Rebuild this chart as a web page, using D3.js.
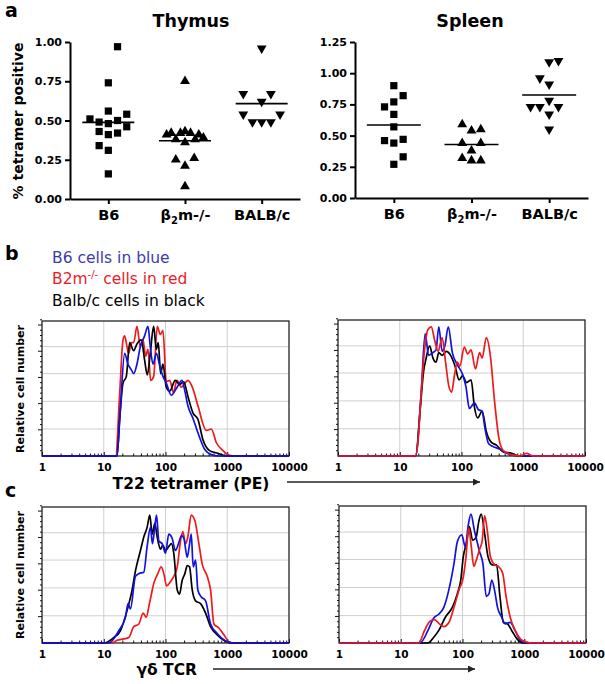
<!DOCTYPE html>
<html><head><meta charset="utf-8">
<script src="https://cdn.jsdelivr.net/npm/d3@7"></script>
<style>body{margin:0;background:#fff} svg{display:block}</style>
</head><body><svg id="c" width="605" height="684"></svg>
<script>
// ---------- DATA ----------
const groups = ["B6","β2m-/-","BALB/c"];
const thymusTicks = [0,0.25,0.5,0.75,1.0];
const spleenTicks = [0,0.25,0.5,0.75,1.0,1.25];

const thymusB6   = [0.97,0.74,0.56,0.54,0.51,0.49,0.48,0.50,0.46,0.43,0.41,0.42,0.34,0.31,0.16];
const thymusB6Slot = [1,0,0,2,-2,-1,0,1,2,-1,0,1,-1,0,0];
const thymusB2m  = [0.75,0.41,0.42,0.42,0.43,0.42,0.41,0.38,0.36,0.38,0.39,0.25,0.26,0.21,0.08];
const thymusB2mSlot = [0,-2,-1.5,-0.5,0,0.6,1.5,-1,0,1.1,2,-1,1,0,0];
const thymusBalb = [0.96,0.67,0.67,0.62,0.54,0.54,0.49,0.49,0.49];
const thymusBalbSlot = [0,-2,1,0,-2,2,-1,0,1];

const spleenB6   = [0.90,0.82,0.77,0.73,0.67,0.57,0.46,0.47,0.44,0.33,0.27];
const spleenB6Slot = [0,1,0,-1,0,0,-1,1,0,1,0];
const spleenB2m  = [0.59,0.54,0.55,0.44,0.44,0.38,0.32,0.30,0.30];
const spleenB2mSlot = [-1,0,1,-1,1,0,-1,0,1];
const spleenBalb = [1.09,1.10,0.96,0.91,0.78,0.73,0.73,0.73,0.67,0.55];
const spleenBalbSlot = [0,1,-1,0,0,-2,-1,1,0,0];

const histTicks = [1,10,100,1000,10000];

// [fluorescence, relative cell number %]
const bThymusRed = [[15.6,0],[18.1,46],[20.5,86],[21.8,89],[23.8,81],[25.3,76],[27.9,84],[30.5,84],[34.5,96],[39.1,81],[43.2,86],[47.7,74],[52,79],[57.5,56],[64.3,59],[73.6,96],[82.4,90],[91,93],[103,55],[117,56],[135,47],[153,56],[180,51],[231,56],[272,51],[336,37],[458,19],[552,20],[664,10],[851,4],[1092,0.5],[1400,0]];
const bThymusBlack = [[16.4,0],[18.1,27],[20.5,54],[23.2,59],[26.3,84],[30.5,78],[34.5,83],[40.6,86],[45.9,71],[50.7,60],[56.7,76],[64.3,96],[71,79],[76.4,84],[83.4,61],[91,68],[103,51],[117,48],[144,56],[169,53],[197,55],[231,44],[278,32],[336,27],[404,12],[518,4],[707,2],[964,0]];
const bThymusBlue = [[16.4,0],[18.5,34],[21.8,76],[24.7,68],[27.9,64],[30.5,61],[34.5,68],[39.1,81],[45.9,89],[52,96],[56.7,81],[62.7,68],[71,76],[82.4,65],[91,59],[103,54],[124,45],[150,50],[185,56],[204,49],[231,37],[278,28],[336,17],[430,5],[552,1],[707,0]];

const bSpleenRed = [[17.7,0],[19.6,9],[22.2,46],[25.2,78],[28.6,93],[32.4,95],[36.8,85],[41.8,77],[48.6,87],[55.2,69],[62.6,51],[69.3,47],[76.7,59],[85.9,69],[94,66],[111,80],[126,75],[143,78],[168,64],[196,76],[216,72],[252,87],[293,74],[345,39],[407,12],[474,4],[650,1],[893,0],[1120,2],[1480,0]];
const bSpleenBlack = [[18.1,0],[21.4,34],[24.3,62],[26.5,71],[30.5,81],[34.5,72],[38.7,69],[42.9,76],[48.6,74],[56.6,77],[66.7,74],[78.7,66],[91.5,56],[104,59],[121,54],[143,56],[162,36],[183,28],[216,33],[252,18],[305,10],[368,8],[474,3],[650,2],[838,0]];
const bSpleenBlue = [[18.1,0],[22.2,46],[25.8,90],[29.3,74],[34.5,76],[38.7,78],[42.9,95],[48.6,77],[53.8,81],[61.1,95],[71.1,76],[85.9,67],[104,60],[118,51],[134,35],[162,39],[188,34],[214,33],[243,19],[275,9],[324,7],[418,5],[538,2],[787,0]];

const cThymusBlack = [[10,0],[14.5,4],[18.6,9],[23.9,24],[28.8,39],[32.6,53],[39.3,68],[44.5,78],[50.4,85],[55.7,94],[60.8,80],[67.1,88],[73.3,78],[83,69],[90.5,72],[100,68],[113,71],[125,73],[136,66],[155,39],[169,36],[186,46],[206,51],[225,57],[245,56],[271,39],[307,31],[370,29],[446,22],[537,12],[688,6],[883,2],[1132,0]];
const cThymusBlue = [[12.1,0],[17.5,9],[22.5,19],[24.8,29],[27,25],[32.6,49],[37,51],[44.5,52],[50.4,71],[57.1,85],[61.5,73],[66.3,83],[71.5,94],[78,75],[88.3,73],[100,66],[113,80],[128,77],[145,68],[165,74],[182,79],[198,77],[225,63],[242,71],[261,80],[281,56],[307,61],[334,39],[378,34],[446,31],[537,14],[688,7],[1000,1],[1282,0]];
const cThymusRed = [[13.6,0],[16.4,2],[21.1,3],[25.4,4],[30.6,12],[37,14],[43.4,22],[48.6,19],[55,29],[64.7,44],[75.1,51],[85.1,56],[94,51],[104,42],[120,45],[136,49],[155,56],[175,75],[191,82],[211,73],[230,78],[261,94],[299,90],[347,73],[393,58],[474,49],[537,39],[608,14],[732,11],[883,6],[1064,1],[1282,0]];

const cSpleenBlue = [[20.5,0],[28.1,10],[34,18],[41.1,21],[49.8,26],[60.2,39],[72.8,58],[82.6,74],[97.4,79],[111,70],[124,86],[137,94],[156,82],[170,75],[188,67],[214,58],[243,34],[269,36],[298,46],[329,39],[369,26],[430,19],[489,14],[591,15],[714,9],[864,2],[1114,0]];
const cSpleenBlack = [[27.4,0],[34,4],[41.1,9],[53,19],[68.4,26],[82.6,36],[93.8,46],[103,63],[116,73],[129,85],[146,75],[166,77],[184,89],[201,94],[228,80],[259,63],[305,57],[356,57],[404,34],[459,15],[534,14],[629,9],[762,3],[981,0]];
const cSpleenRed = [[19.7,0],[24.2,9],[30,16],[35.3,17],[42.2,14],[49.8,12],[60.2,15],[72.8,26],[88.1,39],[103,48],[114,63],[126,84],[139,70],[152,56],[166,60],[188,68],[209,75],[228,93],[252,82],[283,63],[334,57],[379,56],[447,51],[507,34],[591,19],[714,9],[864,3],[1045,1],[1300,0]];

// ---------- DRAWING ----------
const FB = "'DejaVu Sans', sans-serif";
const svg = d3.select("#c");
const COL = {blue:"#1212e0", red:"#f01a1a", black:"#000"};

function scatter(o){
  const g = svg.append("g");
  const x = d3.scalePoint().domain(groups).range([o.x0,o.x1]).padding(0.5);
  const y = d3.scaleLinear().domain([0,o.max]).range([o.yb,o.yt]);
  const ya = g.append("g").attr("transform",`translate(${o.x0},0)`)
    .call(d3.axisLeft(y).tickValues(o.ticks).tickFormat(d3.format(".2f")).tickSize(5).tickSizeOuter(0));
  ya.select(".domain").attr("stroke-width",2);
  ya.selectAll(".tick line").attr("stroke-width",2);
  ya.selectAll(".tick text").attr("font-family",FB).attr("font-weight","bold").attr("font-size",11).attr("fill","#000");
  const xa = g.append("g").attr("transform",`translate(0,${o.yb})`)
    .call(d3.axisBottom(x).tickSize(5).tickSizeOuter(0));
  xa.select(".domain").attr("stroke-width",2);
  xa.selectAll(".tick line").attr("stroke-width",2);
  xa.selectAll(".tick text").attr("font-family",FB).attr("font-weight","bold").attr("font-size",14.5).attr("fill","#000").attr("y",11)
    .each(function(d){
      if(d==="β2m-/-"){
        const t=d3.select(this).text(null);
        t.append("tspan").text("β");
        t.append("tspan").text("2").attr("font-size",10).attr("dy",4);
        t.append("tspan").text("m-/-").attr("dy",-4);
      }
    });
  g.append("text").attr("x",o.titleX).attr("y",27).attr("text-anchor","middle")
    .attr("font-family",FB).attr("font-weight","bold").attr("font-size",17.5).text(o.title);
  const sq = d3.symbol().type(d3.symbolSquare).size(52)();
  const tri = d3.symbol().type(d3.symbolTriangle).size(42)();
  o.sets.forEach((s,gi)=>{
    const cx = x(groups[gi]);
    const pts = s.vals.map((v,i)=>({v, slot:s.slot[i]}));
    g.selectAll(null).data(pts).join("path")
      .attr("d", gi===0?sq:tri)
      .attr("transform", d=>`translate(${cx + d.slot*o.step},${y(d.v)})${gi===2?" rotate(180)":""}`)
      .attr("fill","#000");
    const m = d3.mean(s.vals);
    g.append("line").attr("x1",cx-o.mw/2).attr("x2",cx+o.mw/2).attr("y1",y(m)).attr("y2",y(m))
      .attr("stroke","#000").attr("stroke-width",1.6);
  });
}

scatter({x0:70,x1:300,yt:42,yb:199,max:1.0,ticks:thymusTicks,title:"Thymus",titleX:191,step:9.2,mw:52,
  sets:[{vals:thymusB6,slot:thymusB6Slot},{vals:thymusB2m,slot:thymusB2mSlot},{vals:thymusBalb,slot:thymusBalbSlot}]});
scatter({x0:355,x1:588,yt:42,yb:198,max:1.25,ticks:spleenTicks,title:"Spleen",titleX:470,step:9.3,mw:54,
  sets:[{vals:spleenB6,slot:spleenB6Slot},{vals:spleenB2m,slot:spleenB2mSlot},{vals:spleenBalb,slot:spleenBalbSlot}]});

// y title
svg.append("text").attr("transform","translate(23,121) rotate(-90)").attr("text-anchor","middle")
  .attr("font-family",FB).attr("font-weight","bold").attr("font-size",14).text("% tetramer positive");

// panel letters
[["a",5,17],["b",5,260],["c",5,497]].forEach(([t,xx,yy])=>
  svg.append("text").attr("x",xx).attr("y",yy).attr("font-family",FB).attr("font-weight","bold").attr("font-size",19).text(t));

// legend
const lg = [{t:"B6 cells in blue",c:"#3c3ca8",y:263},{t:"B2m",sup:"-/-",rest:" cells in red",c:"#ec1c24",y:284},{t:"Balb/c cells in black",c:"#000",y:306}];
lg.forEach(l=>{
  const t = svg.append("text").attr("x",52).attr("y",l.y).attr("font-family",FB).attr("font-size",15.5).attr("fill",l.c);
  t.append("tspan").text(l.t);
  if(l.sup){ t.append("tspan").text(l.sup).attr("font-size",10).attr("dy",-6); t.append("tspan").text(l.rest).attr("dy",6); }
});

function hist(o){
  const g = svg.append("g");
  const x = d3.scaleLog().domain([1,10000]).range([o.x0,o.x1]);
  const y = d3.scaleLinear().domain([0,100]).range([o.y1,o.y0]);
  g.selectAll(".vg").data(histTicks.slice(1,-1)).join("line")
    .attr("x1",d=>x(d)).attr("x2",d=>x(d)).attr("y1",o.y0).attr("y2",o.y1).attr("stroke","#cfcfcf").attr("stroke-width",1);
  g.selectAll(".hg").data([20,40.5,61,81]).join("line")
    .attr("x1",o.x0).attr("x2",o.x1).attr("y1",d=>y(d)).attr("y2",d=>y(d)).attr("stroke","#cfcfcf").attr("stroke-width",1);
  g.append("rect").attr("x",o.x0).attr("y",o.y0).attr("width",o.x1-o.x0).attr("height",o.y1-o.y0)
    .attr("fill","none").attr("stroke","#111").attr("stroke-width",1.2);
  const minor = d3.range(0,101,3.88).filter(v=>v>0);
  g.selectAll(".yt").data(minor).join("line")
    .attr("x1",(d,i)=>o.x0-((i+1)%5===0?4:2)).attr("x2",o.x0).attr("y1",d=>y(d)).attr("y2",d=>y(d))
    .attr("stroke","#111").attr("stroke-width",1);
  const xa = g.append("g").attr("transform",`translate(0,${o.y1})`)
    .call(d3.axisBottom(x).tickValues(x.ticks()).tickFormat(d=>histTicks.includes(d)?String(d):"").tickSizeOuter(0).tickSize(0));
  xa.select(".domain").remove();
  xa.selectAll(".tick line").attr("y2",d=>histTicks.includes(d)?-4:-2.5).attr("stroke","#111");
  xa.selectAll(".tick text").attr("y",8).attr("font-family",FB).attr("font-weight","bold").attr("font-size",10.5).attr("fill","#000");
  const line = d3.line().x(d=>x(d[0])).y(d=>y(d[1])).curve(d3.curveMonotoneX);
  o.series.forEach(s=>{
    g.append("path").datum([[1,0],...s.data,[10000,0]]).attr("d",line)
      .attr("fill","none").attr("stroke",s.color).attr("stroke-width",1.7).attr("stroke-linejoin","round");
  });
}

hist({x0:42,x1:289,y0:321,y1:456,series:[{data:bThymusRed,color:COL.red},{data:bThymusBlack,color:COL.black},{data:bThymusBlue,color:COL.blue}]});
hist({x0:338,x1:585,y0:320,y1:456,series:[{data:bSpleenBlack,color:COL.black},{data:bSpleenBlue,color:COL.blue},{data:bSpleenRed,color:COL.red}]});
hist({x0:42,x1:289,y0:507,y1:643,series:[{data:cThymusRed,color:COL.red},{data:cThymusBlack,color:COL.black},{data:cThymusBlue,color:COL.blue}]});
hist({x0:339,x1:586,y0:506,y1:643,series:[{data:cSpleenBlack,color:COL.black},{data:cSpleenBlue,color:COL.blue},{data:cSpleenRed,color:COL.red}]});

[389,575].forEach(cy=>svg.append("text").attr("transform",`translate(24,${cy}) rotate(-90)`).attr("text-anchor","middle")
  .attr("font-family",FB).attr("font-weight","bold").attr("font-size",11).text("Relative cell number"));

svg.append("text").attr("x",191).attr("y",489).attr("text-anchor","middle").attr("font-family",FB).attr("font-weight","bold").attr("font-size",15.5).text("T22 tetramer (PE)");
svg.append("text").attr("x",197).attr("y",675).attr("text-anchor","end").attr("font-family",FB).attr("font-weight","bold").attr("font-size",15.5).text("γδ TCR");

svg.append("defs").append("marker").attr("id","ah").attr("viewBox","0 0 10 10").attr("refX",10).attr("refY",5)
  .attr("markerWidth",9).attr("markerHeight",7).attr("markerUnits","userSpaceOnUse").attr("orient","auto")
  .append("path").attr("d","M0,0L10,5L0,10Z").attr("fill","#222");
[[287,480,482],[213,475,669]].forEach(([a,b,yy])=>svg.append("line").attr("x1",a).attr("x2",b).attr("y1",yy).attr("y2",yy)
  .attr("stroke","#222").attr("stroke-width",1.5).attr("marker-end","url(#ah)"));
</script></body></html>
